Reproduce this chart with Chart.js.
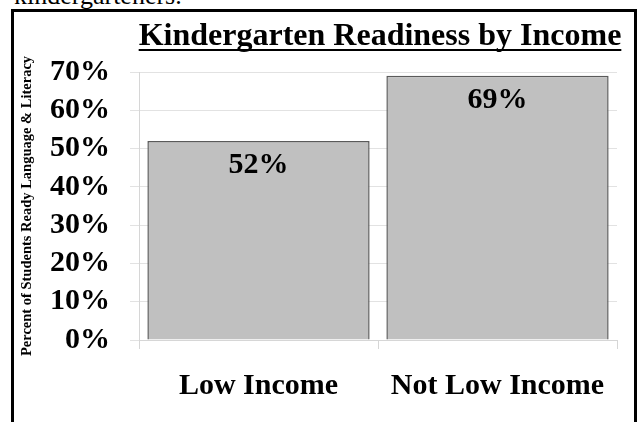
<!DOCTYPE html>
<html>
<head>
<meta charset="utf-8">
<script src="https://cdn.jsdelivr.net/npm/chart.js@4/dist/chart.umd.min.js"></script>
<style>
  html, body { margin: 0; padding: 0; background: #fff; overflow: hidden; }
  body { width: 639px; height: 422px; position: relative; }
  .lead {
    position: absolute; left: 14px; top: -19px;
    font: 26px "Liberation Serif", "Times New Roman", serif; color: #000;
  }
  .frame {
    position: absolute; left: 11px; top: 9px;
    width: 620px; height: 430px;
    border: 3px solid #000; background: #fff;
  }
  .frame canvas { position: absolute; left: 0; top: 0; }
</style>
</head>
<body>
<div class="lead">kindergarteners.</div>
<div class="frame">
  <canvas id="readinessChart" width="620" height="410"></canvas>
</div>
<script>
const categories = ['Low Income', 'Not Low Income'];
const readyPct = [52, 69];
const yTicks = [0, 10, 20, 30, 40, 50, 60, 70];

const serif = '"Liberation Serif", "Times New Roman", serif';

// title text with an underline beneath it
const titlePlugin = {
    id: 'underlinedTitle',
    afterDraw(chart) {
        const ctx = chart.ctx;
        const text = 'Kindergarten Readiness by Income';
        ctx.save();
        ctx.font = 'bold 32px ' + serif;
        ctx.fillStyle = '#000';
        ctx.textAlign = 'center';
        ctx.textBaseline = 'alphabetic';
        const cx = 366, by = 33;
        ctx.fillText(text, cx, by);
        const w = ctx.measureText(text).width;
        ctx.fillRect(cx - w / 2, by + 4, w, 2);
        ctx.restore();
    }
};

// value labels inside each bar, near its top
const barLabels = {
    id: 'barLabels',
    afterDatasetsDraw(chart) {
        const ctx = chart.ctx;
        const meta = chart.getDatasetMeta(0);
        ctx.save();
        ctx.font = 'bold 30px ' + serif;
        ctx.fillStyle = '#000';
        ctx.textAlign = 'center';
        ctx.textBaseline = 'middle';
        meta.data.forEach((bar, i) => {
            ctx.fillText(readyPct[i] + '%', bar.x, bar.y + 24);
        });
        ctx.restore();
    }
};

new Chart(document.getElementById('readinessChart'), {
    type: 'bar',
    data: {
        labels: categories,
        datasets: [{
            data: readyPct,
            backgroundColor: '#c0c0c0',
            borderColor: '#5a5a5a',
            borderWidth: 1.5,
            barPercentage: 0.93,
            categoryPercentage: 1.0
        }]
    },
    options: {
        responsive: false,
        animation: false,
        layout: { padding: { top: 60, right: 17, bottom: 0, left: 0 } },
        plugins: {
            legend: { display: false },
            tooltip: { enabled: false }
        },
        scales: {
            x: {
                afterFit(scale) { scale.height = 82; },
                border: { color: '#d6d6d6' },
                grid: {
                    offset: true,
                    drawOnChartArea: false,
                    tickLength: 9,
                    color: '#d6d6d6'
                },
                ticks: {
                    color: '#000',
                    padding: 19,
                    font: { family: serif, size: 30, weight: 'bold' }
                }
            },
            y: {
                min: 0,
                max: 70,
                afterFit(scale) { scale.width = 125; },
                afterBuildTicks(scale) {
                    scale.ticks = yTicks.map(v => ({ value: v }));
                },
                border: { color: '#d6d6d6' },
                grid: { color: '#e2e2e2', tickLength: 9 },
                ticks: {
                    color: '#000',
                    padding: 20,
                    autoSkip: false,
                    font: { family: serif, size: 30, weight: 'bold' },
                    callback: v => v + '%'
                },
                title: {
                    display: true,
                    text: 'Percent of Students Ready Language & Literacy',
                    color: '#000',
                    padding: { top: 5, bottom: 0 },
                    font: { family: serif, size: 14.5, weight: 'bold' }
                }
            }
        }
    },
    plugins: [titlePlugin, barLabels]
});
</script>
</body>
</html>
